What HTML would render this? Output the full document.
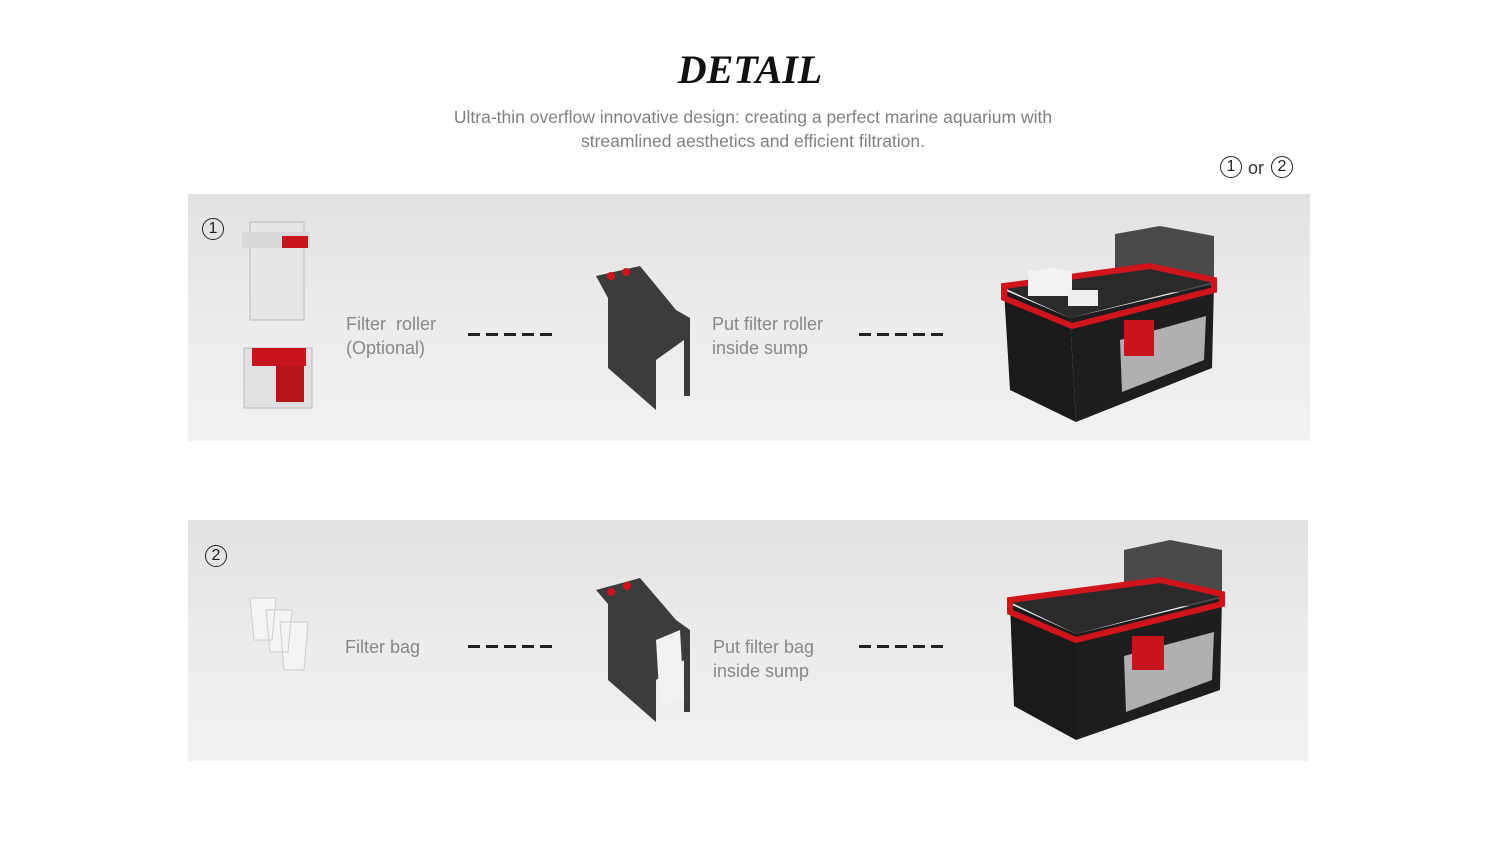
<!DOCTYPE html>
<html><head><meta charset="utf-8"><style>
*{margin:0;padding:0}
body{width:1500px;height:844px;background:#fff;position:relative;overflow:hidden;font-family:"Liberation Sans",sans-serif}
.t{position:absolute;color:#888;font-size:18px;line-height:24px}
.panel{position:absolute;background:linear-gradient(180deg,#e2e2e2 0%,#ececec 55%,#f1f1f1 100%)}
.dash{position:absolute;height:3px;background:repeating-linear-gradient(90deg,#222 0 12px,transparent 12px 18px)}
.circ{position:absolute;width:20px;height:20px;border:1.6px solid #222;border-radius:50%;font-size:16px;line-height:20px;text-align:center;color:#222}
</style></head><body>
<div style="position:absolute;left:0;width:1500px;top:46px;text-align:center;font-family:'Liberation Serif',serif;font-weight:bold;font-style:italic;font-size:40px;color:#111;letter-spacing:0px">DETAIL</div>
<div class="t" style="left:0;width:1506px;top:105px;text-align:center;font-size:17.5px;color:#808080">Ultra-thin overflow innovative design: creating a perfect marine aquarium with<br>streamlined aesthetics and efficient filtration.</div>
<div class="circ" style="left:1220px;top:156px">1</div>
<div class="t" style="left:1248px;top:156px;color:#333;font-size:18px">or</div>
<div class="circ" style="left:1271px;top:156px">2</div>

<div class="panel" style="left:188px;top:194px;width:1122px;height:247px"></div>
<div class="panel" style="left:188px;top:520px;width:1120px;height:241px"></div>
<div class="circ" style="left:202px;top:218px">1</div>
<div class="circ" style="left:205px;top:545px">2</div>

<div class="t" style="left:346px;top:312px">Filter&nbsp; roller<br>(Optional)</div>
<div class="t" style="left:712px;top:312px">Put filter roller<br>inside sump</div>
<div class="t" style="left:345px;top:635px">Filter bag</div>
<div class="t" style="left:713px;top:635px">Put filter bag<br>inside sump</div>
<div class="dash" style="left:468px;top:333px;width:84px"></div>
<div class="dash" style="left:859px;top:333px;width:84px"></div>
<div class="dash" style="left:468px;top:645px;width:84px"></div>
<div class="dash" style="left:859px;top:645px;width:84px"></div>

<svg width="1500" height="844" style="position:absolute;left:0;top:0">
<!-- roller unit -->
<rect x="250" y="222" width="54" height="98" fill="#e6e6e6" stroke="#bbb"/>
<rect x="242" y="232" width="68" height="16" fill="#d8d8d8"/>
<rect x="282" y="236" width="26" height="12" fill="#c8141c"/>
<rect x="244" y="348" width="68" height="60" fill="#e0e0e0" stroke="#bbb"/>
<rect x="252" y="348" width="54" height="18" fill="#c8141c"/>
<rect x="276" y="366" width="28" height="36" fill="#b5141a"/>
<!-- bags -->
<path d="M250 598h26l-4 42h-18z M266 610h26l-4 42h-18z M280 622h28l-4 48h-20z" fill="#f4f4f4" stroke="#ccc"/>
<!-- box 1 -->
<polygon points="596,276 640,266 676,310 690,318 690,396 684,396 684,340 656,360 656,410 608,368 608,298" fill="#3c3c3c"/>
<circle cx="611" cy="276" r="4" fill="#d0141c"/><circle cx="626" cy="272" r="4" fill="#d0141c"/>
<!-- box 2 -->
<polygon points="596,590 640,578 676,620 690,630 690,712 684,712 684,660 656,680 656,722 608,680 608,604" fill="#3c3c3c"/>
<polygon points="656,640 680,630 684,700 660,706" fill="#f2f2f2"/>
<circle cx="611" cy="592" r="4" fill="#d0141c"/><circle cx="627" cy="586" r="4" fill="#d0141c"/>
<!-- sump 1 -->
<polygon points="1115,234 1160,226 1214,236 1214,290 1115,296" fill="#4a4a4a"/>
<polygon points="1004,288 1150,268 1214,282 1070,318" fill="#2a2a2a"/>
<polygon points="1004,290 1070,318 1076,422 1010,390" fill="#1a1a1a"/>
<polygon points="1070,318 1214,284 1212,368 1076,422" fill="#1e1e1e"/>
<polygon points="1120,340 1206,316 1204,360 1122,392" fill="#b0b0b0"/>
<polygon points="1004,286 1150,266 1214,280 1214,290 1072,326 1004,298" fill="none" stroke="#d0141c" stroke-width="6"/>
<rect x="1124" y="320" width="30" height="36" fill="#c8141c"/>
<ellipse cx="1050" cy="282" rx="22" ry="14" fill="#f3f3f3"/>
<rect x="1028" y="270" width="44" height="26" fill="#f3f3f3"/>
<rect x="1068" y="290" width="30" height="16" fill="#eee"/>
<!-- sump 2 -->
<polygon points="1124,550 1170,540 1222,550 1222,604 1124,610" fill="#4a4a4a"/>
<polygon points="1010,602 1160,582 1222,596 1076,634" fill="#2a2a2a"/>
<polygon points="1010,604 1076,634 1076,740 1014,706" fill="#1a1a1a"/>
<polygon points="1076,634 1222,598 1220,690 1076,740" fill="#1e1e1e"/>
<polygon points="1124,656 1214,632 1212,680 1126,712" fill="#b0b0b0"/>
<polygon points="1010,600 1160,580 1222,594 1222,604 1076,640 1010,612" fill="none" stroke="#d0141c" stroke-width="6"/>
<rect x="1132" y="636" width="32" height="34" fill="#c8141c"/>
</svg>
</body></html>
